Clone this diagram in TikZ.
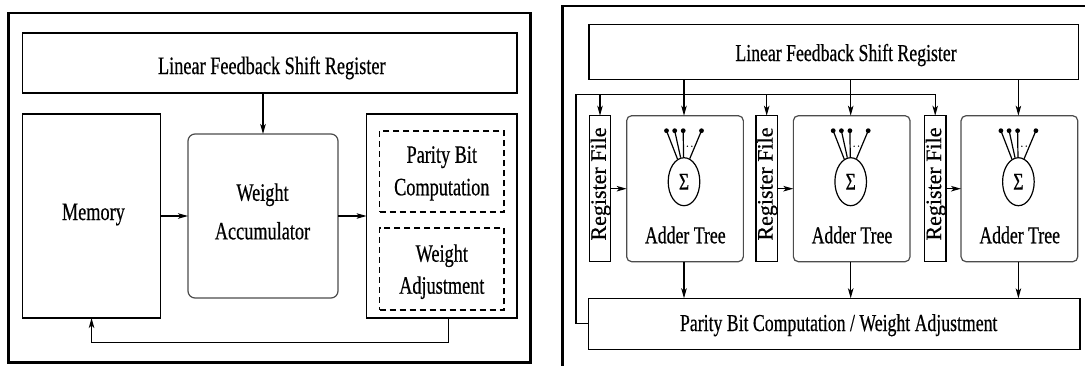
\documentclass[tikz,border=0pt]{standalone}
\usepackage{fontspec}
\newfontfamily\nf[FakeStretch=0.73,FakeBold=0.5]{Liberation Serif}
\newfontfamily\rfont[FakeBold=0.5]{Liberation Serif}
\usetikzlibrary{arrows.meta,shapes.geometric,calc}
\tikzset{
  sz/.style 2 args={minimum width=#1pt,minimum height=#2pt},
  box/.style={draw,line width=1.2pt,inner sep=0pt,outer sep=0pt},
  rbox/.style={box,draw=black!70,rounded corners=#1pt},
  dbox/.style={box,dash pattern=on 6pt off 4pt},
  frame/.style={line width=2.8pt},
  conn/.style={line width=1.2pt},
  arr/.style={conn,-{Stealth[length=10pt,width=5.5pt,inset=2.5pt]}},
  lbl/.style={inner sep=0pt,font=\nf\fontsize{25}{30}\selectfont},
  lblR/.style={inner sep=0pt,font=\nf\fontsize{24.3}{29}\selectfont},
  sig/.style={ellipse,draw,line width=1.2pt,inner sep=0pt,minimum width=31.6pt,minimum height=48pt,font=\nf\fontsize{24}{26}\selectfont},
  dot/.style={circle,fill,inner sep=0pt,minimum size=4.8pt},
  tdot/.style={circle,fill,inner sep=0pt,minimum size=1.5pt},
  rft/.style={inner sep=0pt,rotate=90,font=\rfont\fontsize{22}{24}\selectfont}
}
\begin{document}
\begin{tikzpicture}[x=1pt,y=-1pt]
\clip (0,0) rectangle (1085,365);
\fill[white] (0,0) rectangle (1085,365);
% ---------------- left panel ----------------
\draw[frame] (8.6,13) rectangle (530.5,362.5);
\node[box,sz={494.2}{60}] (lfsrL) at (269.9,63) {};
\node[lbl,anchor=base] (lfsrLt) at (271.8,74) {Linear Feedback Shift Register};
\node[box,sz={137.5}{204}] (mem) at (91.55,216) {};
\node[lbl,anchor=base] (memt) at (93.4,220) {Memory};
\node[rbox=7,sz={150}{164}] (wa) at (263,216) {};
\node[lbl,align=center,font=\nf\fontsize{25}{38.6}\selectfont] (wat) at (262.5,211.5) {Weight\\Accumulator};
\node[box,sz={150.4}{204}] (rb) at (441.8,216) {};
\node[dbox,sz={124.4}{81}] (pbc) at (441.8,171.5) {};
\node[lbl,align=center,font=\nf\fontsize{25}{32.5}\selectfont] (pbct) at (441.8,173.4) {Parity Bit\\Computation};
\node[dbox,sz={124.4}{82}] (wadj) at (441.8,269) {};
\node[lbl,align=center,font=\nf\fontsize{25}{32}\selectfont] (wadjt) at (441.8,271.7) {Weight\\Adjustment};
\draw[arr] (lfsrL.south -| wa.north) -- (wa.north);
\draw[arr] (mem.east) -- (wa.west);
\draw[arr] (wa.east) -- (rb.west);
\coordinate (fbL) at (448.3,342.3);
\draw[arr] (rb.south -| fbL) -- (fbL) -| (mem.south);
% ---------------- right panel ----------------
\draw[frame] (1095,6) -- (562.3,6) -- (562.3,375);
\node[box,sz={489.5}{54.6}] (lfsrR) at (833.75,52) {};
\node[lblR,anchor=base] (lfsrRt) at (846,61) {Linear Feedback Shift Register};
\node[box,sz={491.3}{51}] (pb) at (834.35,323.8) {};
\node[lblR,anchor=base] (pbt) at (838.7,331) {Parity Bit Computation / Weight Adjustment};
\foreach \i/\rx/\ax in {1/600/685, 2/766.7/851.7, 3/935.2/1019.4}{
  \node[box,sz={21.4}{146}] (rf\i) at (\rx,188.7) {};
  \node[rft] (rft\i) at (\rx+0.6,184) {Register File};
  \node[rbox=5,sz={116.7}{146}] (at\i) at (\ax,188.7) {};
  \node[sig] (s\i) at (\ax-1,181.7) {Σ};
  \node[lblR,anchor=base] (att\i) at (\ax+0.3,243.3) {Adder Tree};
  \node[dot] (d\i a) at ($(s\i.center)+(-17.5,-51)$) {};
  \node[dot] (d\i b) at ($(s\i.center)+(-9.3,-51)$) {};
  \node[dot] (d\i c) at ($(s\i.center)+(-0.8,-51)$) {};
  \node[dot] (d\i d) at ($(s\i.center)+(17.5,-51)$) {};
  \draw[conn] (d\i a.center) -- (s\i.106);
  \draw[conn] (d\i b.center) -- (s\i.98);
  \draw[conn] (d\i c.center) -- (s\i.91);
  \draw[conn] (d\i d.center) -- (s\i.76);
  \node[tdot] (e\i a) at ($(s\i.center)+(3.4,-35.5)$) {};
  \node[tdot] (e\i b) at ($(s\i.center)+(7.8,-35.5)$) {};
  \draw[arr] (lfsrR.south -| s\i) -- (at\i.north -| s\i);
  \draw[arr] (at\i.south -| s\i) -- (pb.north -| s\i);
  \draw[arr] (rf\i.east) -- (at\i.west);
}
\coordinate (lp) at (576,94.3);
\draw[arr] (pb.west) -| (lp) -| (rf3.north);
\draw[arr] (lp -| rf1.north) -- (rf1.north);
\draw[arr] (lp -| rf2.north) -- (rf2.north);
\end{tikzpicture}
\end{document}
